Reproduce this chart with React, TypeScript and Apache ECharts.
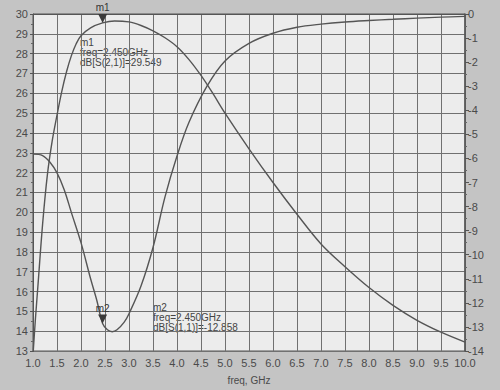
import React, { useEffect, useRef } from "react";
import * as echarts from "echarts";

const freqS21 = [1.0, 1.05, 1.1, 1.2, 1.3, 1.4, 1.5, 1.6, 1.7, 1.8, 1.9, 2.0, 2.2, 2.45, 2.7, 3.0, 3.25, 3.5, 3.75, 4.0, 4.25, 4.5, 4.75, 5.0, 5.5, 6.0, 6.5, 7.0, 7.5, 8.0, 8.5, 9.0, 9.5, 10.0];
const s21 = [12.8, 14.6, 16.2, 19.4, 21.9, 23.6, 24.9, 26.1, 27.1, 27.9, 28.5, 28.9, 29.3, 29.549, 29.65, 29.6, 29.42, 29.15, 28.8, 28.35, 27.7, 26.9, 25.98, 25.0, 23.2, 21.5, 19.9, 18.4, 17.25, 16.2, 15.3, 14.55, 13.95, 13.45];

const freqS11 = [1.0, 1.2, 1.35, 1.5, 1.65, 1.8, 2.0, 2.2, 2.33, 2.45, 2.55, 2.65, 2.75, 2.9, 3.0, 3.25, 3.5, 3.75, 4.0, 4.25, 4.625, 5.0, 5.5, 6.0, 6.5, 7.0, 7.5, 8.0, 8.5, 9.0, 9.5, 10.0];
const s11 = [-5.82, -5.88, -6.15, -6.6, -7.3, -8.25, -9.5, -11.0, -11.9, -12.858, -13.12, -13.2, -13.12, -12.8, -12.45, -11.3, -9.7, -7.6, -5.9, -4.5, -3.0, -1.95, -1.22, -0.8, -0.55, -0.42, -0.33, -0.27, -0.22, -0.17, -0.13, -0.1];

const m1 = { name: "m1", freq: 2.45, value: 29.549, label: "dB[S(2,1)]" };
const m2 = { name: "m2", freq: 2.45, value: -12.858, label: "dB[S(1,1)]" };

const xLabelName = "freq, GHz";

const FONT = "Liberation Sans, Arial, sans-serif";
const INK = "#4a4a4a";

export default function App() {
  const ref = useRef<HTMLDivElement>(null);
  useEffect(() => {
    if (!ref.current) return;
    const chart = echarts.init(ref.current, null, { renderer: "svg" });
    const markerPoint = (m: typeof m1) => ({
      symbol: "triangle",
      symbolSize: [9, 9],
      symbolRotate: 180,
      symbolOffset: [0, "-50%"],
      itemStyle: { color: "#3a3a3a" },
      label: {
        show: true,
        position: "top",
        distance: 1,
        formatter: m.name,
        fontSize: 10,
        fontFamily: FONT,
        color: "#333",
      },
      data: [{ coord: [m.freq, m.value] }],
    });
    chart.setOption({
      animation: false,
      backgroundColor: "#c4c4c4",
      textStyle: { fontFamily: FONT },
      grid: {
        left: 33,
        right: 35,
        top: 14,
        bottom: 39,
        show: true,
        backgroundColor: "#ececec",
        borderColor: "#555",
        borderWidth: 1,
      },
      xAxis: {
        type: "value",
        min: 1,
        max: 10,
        interval: 0.5,
        name: xLabelName,
        nameLocation: "middle",
        nameGap: 24,
        nameTextStyle: { fontSize: 10, color: INK, fontFamily: FONT },
        axisLine: { show: true, lineStyle: { color: "#555" } },
        axisTick: { show: false },
        axisLabel: {
          fontSize: 11,
          color: INK,
          margin: 6,
          formatter: (v: number) => v.toFixed(1),
        },
        splitLine: { show: true, lineStyle: { color: "#707070", width: 1 } },
      },
      yAxis: [
        {
          type: "value",
          min: 13,
          max: 30,
          interval: 1,
          position: "left",
          axisLine: { show: true, lineStyle: { color: "#555" } },
          axisTick: { show: true, length: 3, lineStyle: { color: "#555" } },
          minorTick: { show: true, splitNumber: 2, length: 2, lineStyle: { color: "#666" } },
          axisLabel: { fontSize: 11, color: INK, margin: 5 },
          splitLine: { show: true, lineStyle: { color: "#707070", width: 1 } },
        },
        {
          type: "value",
          min: -14,
          max: 0,
          interval: 1,
          position: "right",
          axisLine: { show: true, lineStyle: { color: "#555", width: 1.5 } },
          axisTick: { show: true, length: 4, lineStyle: { color: "#555" } },
          minorTick: { show: true, splitNumber: 2, length: 2, lineStyle: { color: "#666" } },
          axisLabel: { fontSize: 11, color: INK, margin: 3 },
          splitLine: { show: false },
        },
      ],
      series: [
        {
          type: "line",
          name: "dB(S(2,1))",
          yAxisIndex: 0,
          data: freqS21.map((f, i) => [f, s21[i]]),
          smooth: 0.35,
          showSymbol: false,
          clip: true,
          lineStyle: { color: "#555", width: 1.4 },
          markPoint: markerPoint(m1),
        },
        {
          type: "line",
          name: "dB(S(1,1))",
          yAxisIndex: 1,
          data: freqS11.map((f, i) => [f, s11[i]]),
          smooth: 0.35,
          showSymbol: false,
          clip: true,
          lineStyle: { color: "#555", width: 1.4 },
          markPoint: markerPoint(m2),
        },
      ],
      graphic: [
        {
          type: "text",
          left: 80,
          top: 37,
          style: {
            text: `${m1.name}\nfreq=${m1.freq.toFixed(3)}GHz\n${m1.label}=${m1.value.toFixed(3)}`,
            fontSize: 10,
            lineHeight: 10,
            fontFamily: FONT,
            fill: "#444",
          },
        },
        {
          type: "text",
          left: 153,
          top: 302,
          style: {
            text: `${m2.name}\nfreq=${m2.freq.toFixed(3)}GHz\n${m2.label}=${m2.value.toFixed(3)}`,
            fontSize: 10,
            lineHeight: 10,
            fontFamily: FONT,
            fill: "#444",
          },
        },
      ],
    });
    return () => chart.dispose();
  }, []);
  return (
    <div
      ref={ref}
      style={{ position: "fixed", left: 0, top: 0, width: 500, height: 390 }}
    />
  );
}
